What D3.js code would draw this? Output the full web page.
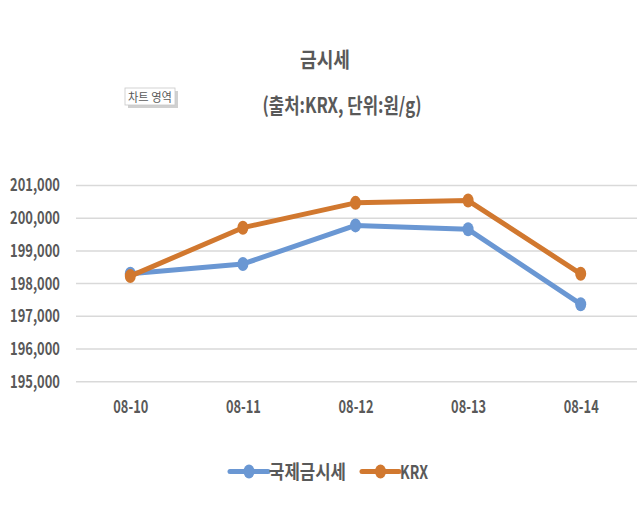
<!DOCTYPE html>
<html>
<head>
<meta charset="utf-8">
<script src="https://cdn.jsdelivr.net/npm/d3@7"></script>
<style>
  html, body { margin: 0; padding: 0; background: #ffffff; }
  svg { display: block; }
  text { font-family: "Noto Sans CJK KR", "Noto Sans", sans-serif; font-weight: bold; fill: #595959; }
</style>
</head>
<body>
<script>
const categories = ["08-10", "08-11", "08-12", "08-13", "08-14"];
const seriesNames = ["국제금시세", "KRX"];
const intlValues = [198300, 198600, 199780, 199660, 197370];
const krxValues = [198230, 199710, 200470, 200540, 198300];
const yTicks = [195000, 196000, 197000, 198000, 199000, 200000, 201000];
const titleText = "금시세";
const subtitleText = "(출처:KRX, 단위:원/g)";
const tooltipText = "차트 영역";
const colors = ["#6A97D3", "#D1782F"];

const W = 640, H = 511;
const svg = d3.select("body").append("svg").attr("width", W).attr("height", H);
svg.append("rect").attr("width", W).attr("height", H).attr("fill", "#fff");

const x = d3.scalePoint().domain(categories).range([74, 637]).padding(0.5);
const y = d3.scaleLinear().domain([195000, 201000]).range([381.7, 185.5]);

// gridlines
svg.append("g").selectAll("line").data(yTicks).join("line")
  .attr("x1", 76).attr("x2", 637)
  .attr("y1", d => y(d)).attr("y2", d => y(d))
  .attr("stroke", "#d9d9d9").attr("stroke-width", 1.5);

// y axis
const yAxis = svg.append("g").attr("transform", "translate(76,0)")
  .call(d3.axisLeft(y).tickValues(yTicks).tickSize(0).tickPadding(16).tickFormat(d3.format(",")));
yAxis.select(".domain").remove();
yAxis.selectAll("text").style("font-size", "17px")
  .attr("textLength", 50).attr("lengthAdjust", "spacingAndGlyphs")
  .style("font-family", "'Noto Sans CJK KR', sans-serif").style("font-weight", "bold").attr("fill", "#595959");

// x axis
const xAxis = svg.append("g").attr("transform", `translate(0,${y(195000)})`)
  .call(d3.axisBottom(x).tickSize(0).tickPadding(19));
xAxis.select(".domain").remove();
xAxis.selectAll("text").style("font-size", "18px")
  .attr("textLength", 35).attr("lengthAdjust", "spacingAndGlyphs")
  .style("font-family", "'Noto Sans CJK KR', sans-serif").style("font-weight", "bold").attr("fill", "#595959");

// series
const series = [intlValues, krxValues];
const line = d3.line().x((d, i) => x(categories[i])).y(d => y(d));
series.forEach((vals, si) => {
  const g = svg.append("g");
  g.append("path").datum(vals).attr("d", line)
    .attr("fill", "none").attr("stroke", colors[si]).attr("stroke-width", 5)
    .attr("stroke-linejoin", "round").attr("stroke-linecap", "round");
  g.selectAll("ellipse").data(vals).join("ellipse")
    .attr("cx", (d, i) => x(categories[i])).attr("cy", d => y(d))
    .attr("rx", 5.5).attr("ry", 7).attr("fill", colors[si]);
});

// title
svg.append("text").attr("x", 325).attr("y", 67).attr("text-anchor", "middle")
  .style("font-size", "21px").attr("textLength", 50).attr("lengthAdjust", "spacingAndGlyphs")
  .text(titleText);
svg.append("text").attr("x", 342).attr("y", 113).attr("text-anchor", "middle")
  .style("font-size", "21px").attr("textLength", 159).attr("lengthAdjust", "spacingAndGlyphs")
  .text(subtitleText);

// tooltip box
const tt = svg.append("g");
tt.append("rect").attr("x", 128).attr("y", 91).attr("width", 50).attr("height", 17)
  .attr("fill", "#b0b0b0").attr("opacity", 0.6);
tt.append("rect").attr("x", 125).attr("y", 88).attr("width", 50).attr("height", 17)
  .attr("fill", "#ffffff").attr("stroke", "#c8c8c8").attr("stroke-width", 0.8);
tt.append("text").attr("x", 150).attr("y", 101.5).attr("text-anchor", "middle")
  .style("font-size", "12px").style("font-weight", "normal").attr("fill", "#404040")
  .attr("textLength", 44).attr("lengthAdjust", "spacingAndGlyphs")
  .text(tooltipText);

// legend
const legendItems = [
  { name: seriesNames[0], color: colors[0], x0: 230, x1: 268, tl: 77 },
  { name: seriesNames[1], color: colors[1], x0: 362, x1: 399, tl: 28 }
];
const lg = svg.append("g");
legendItems.forEach(it => {
  lg.append("line").attr("x1", it.x0).attr("x2", it.x1).attr("y1", 471.5).attr("y2", 471.5)
    .attr("stroke", it.color).attr("stroke-width", 5).attr("stroke-linecap", "round");
  lg.append("ellipse").attr("cx", (it.x0 + it.x1) / 2).attr("cy", 471.5)
    .attr("rx", 5.5).attr("ry", 7).attr("fill", it.color);
  lg.append("text").attr("x", it.x1 + 1).attr("y", 479).style("font-size", "19px")
    .attr("textLength", it.tl).attr("lengthAdjust", "spacingAndGlyphs").text(it.name);
});
</script>
</body>
</html>
